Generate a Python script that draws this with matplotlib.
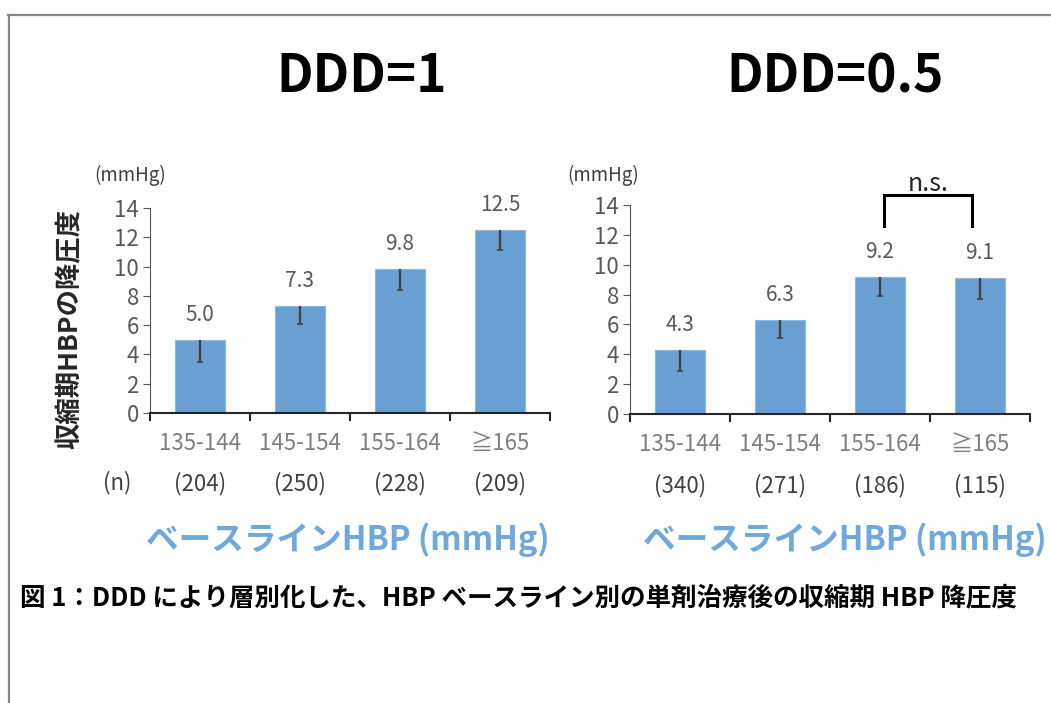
import numpy as np
import matplotlib
matplotlib.use('Agg')
import matplotlib.pyplot as plt
from matplotlib.lines import Line2D
import matplotlib.transforms as mtransforms

plt.rcParams['font.family'] = ['Noto Sans CJK JP', 'DejaVu Sans']

# data
cats = ['135-144', '145-154', '155-164', '≧165']
n_left = ['(204)', '(250)', '(228)', '(209)']
n_right = ['(340)', '(271)', '(186)', '(115)']
val_left = [5.0, 7.3, 9.8, 12.5]
val_right = [4.3, 6.3, 9.2, 9.1]
err_left = [1.5, 1.2, 1.4, 1.4]
err_right = [1.4, 1.2, 1.3, 1.4]
titles = ['DDD=1', 'DDD=0.5']

bar_col = '#6A9FD3'
lab_col = '#6FA8DC'

fig = plt.figure(figsize=(10.51, 7.03), dpi=100)

# frame lines of the original image
fig.add_artist(Line2D([8/1051, 1], [1-15/703, 1-15/703], color='#888888', lw=1.6))
fig.add_artist(Line2D([9/1051, 9/1051], [0, 1-15/703], color='#888888', lw=1.6))

ax1 = fig.add_axes([150/1051, 1-413/703, 400/1051, 205/703])
ax2 = fig.add_axes([630/1051, 1-414/703, 400/1051, 209/703])

def barpanel(ax, vals, errs, nlab, title, xt):
    x = np.arange(len(vals))
    vals = np.array(vals)
    errs = np.array(errs)
    ax.bar(x, vals, width=0.5, color=bar_col, edgecolor='#8DB8E2', lw=0.8, zorder=2)
    # minus-only error bars
    ax.vlines(x, vals - errs, vals, color='#404040', lw=1.6, zorder=3)
    ax.plot(x, vals - errs, ls='none', marker='_', ms=5, mew=1.2, color='#404040', zorder=3)
    for xi, v in zip(x, vals):
        ax.annotate('%.1f' % v, (xi, v), xytext=(0, 18), textcoords='offset points',
                    ha='center', va='center', fontsize=15, color='#595959')
    ax.set_xlim(-0.5, 3.5)
    ax.set_ylim(0, 14)
    ax.set_yticks(range(0, 15, 2))
    ax.set_xticks(np.arange(-0.5, 4, 1))
    ax.set_xticklabels([])
    for s in ['top', 'right']:
        ax.spines[s].set_visible(False)
    ax.spines['left'].set_color('#595959')
    ax.spines['bottom'].set_color('#262626')
    ax.spines['bottom'].set_linewidth(1.5)
    ax.tick_params(axis='y', labelsize=16, labelcolor='#595959', color='#595959',
                   length=5, pad=3)
    ax.tick_params(axis='x', color='#262626', length=6, width=1.5)
    tr = mtransforms.blended_transform_factory(ax.transData, ax.transAxes)
    for xi, c, n in zip(x, cats, nlab):
        ax.text(xi, -0.148, c, transform=tr, ha='center', va='center',
                fontsize=16, color='#7F7F7F')
        ax.text(xi, -0.342, n, transform=tr, ha='center', va='center',
                fontsize=16, color='#404040')
    fig.text(xt, 1-77/703, title, ha='center', va='center', fontsize=37,
             fontweight='bold', color='black')

barpanel(ax1, val_left, err_left, n_left, titles[0], 362/1051)
barpanel(ax2, val_right, err_right, n_right, titles[1], 835/1051)

# n.s. bracket
ax2.plot([2.04, 2.04, 2.92, 2.92], [12.6, 14.66, 14.66, 12.6], color='black',
         lw=2.2, clip_on=False, solid_joinstyle='miter')
ax2.text(2.48, 15.4, 'n.s.', ha='center', va='center', fontsize=18, color='#262626',
         clip_on=False)

# unit labels and extra texts
fig.text(130/1051, 1-175/703, '(mmHg)', ha='center', va='center', fontsize=13.5, color='#404040')
fig.text(603/1051, 1-175/703, '(mmHg)', ha='center', va='center', fontsize=13.5, color='#404040')
fig.text(117/1051, 1-483/703, '(n)', ha='center', va='center', fontsize=16, color='#404040')
fig.text(70/1051, 1-329/703, '収縮期HBPの降圧度', rotation=90, ha='center', va='center',
         fontsize=19, fontweight='bold', color='#262626')

fig.text(348/1051, 1-540/703, 'ベースラインHBP (mmHg)', ha='center', va='center',
         fontsize=23.5, fontweight='bold', color=lab_col)
fig.text(845/1051, 1-540/703, 'ベースラインHBP (mmHg)', ha='center', va='center',
         fontsize=23.5, fontweight='bold', color=lab_col)

fig.text(20/1051, 1-598/703, '図 1：DDD により層別化した、HBP ベースライン別の単剤治療後の収縮期 HBP 降圧度',
         ha='left', va='center', fontsize=18.4, fontweight='bold', color='black')

fig.savefig('out.png', dpi=100)
